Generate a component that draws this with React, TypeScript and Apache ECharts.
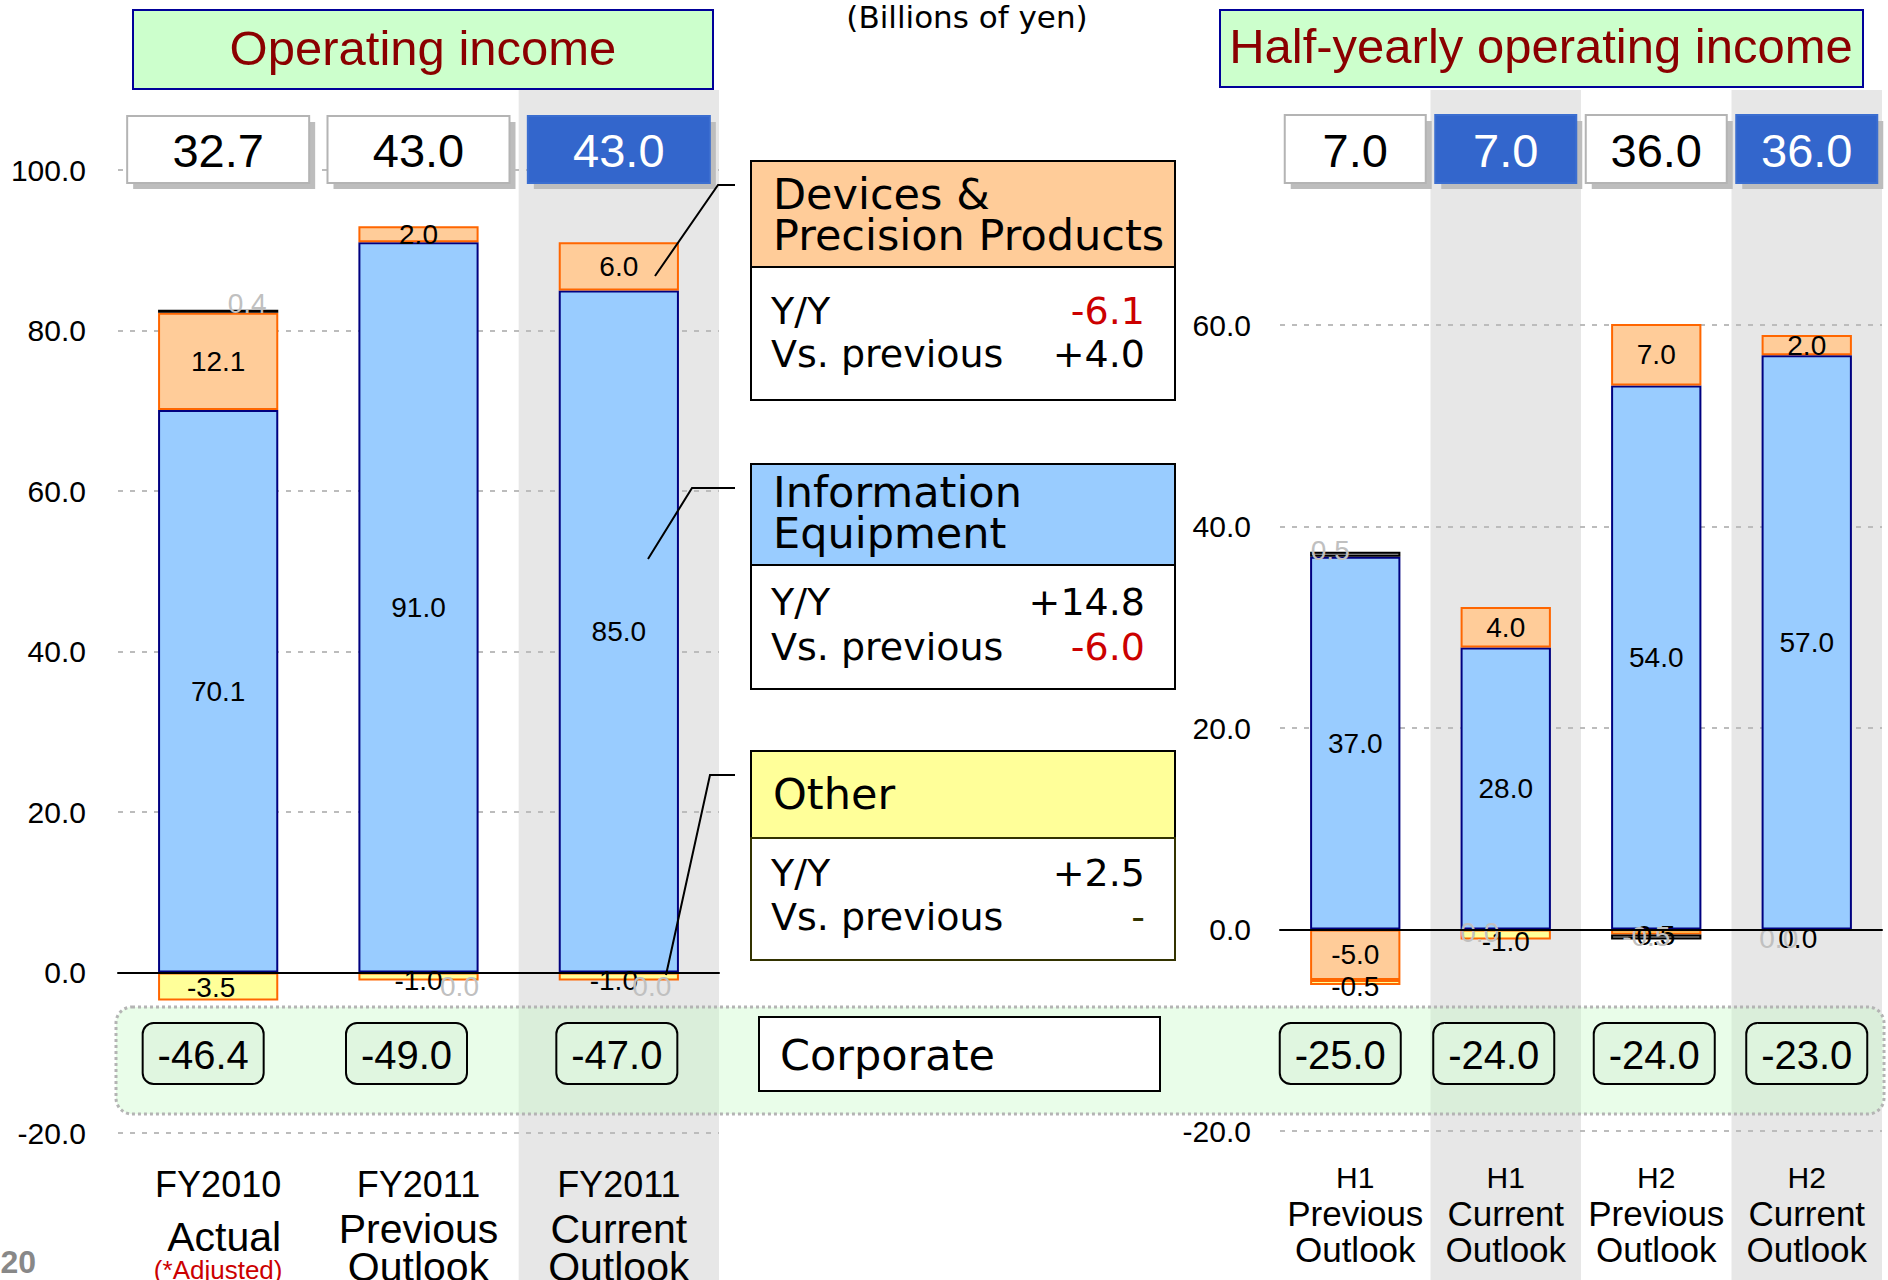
import React, { useEffect, useRef } from "react";
import * as echarts from "echarts";

// ---------------- data ----------------
const annualCategories = ["FY2010\nActual\n(*Adjusted)", "FY2011\nPrevious\nOutlook", "FY2011\nCurrent\nOutlook"];
const annualInfo = [70.1, 91.0, 85.0];
const annualDevices = [12.1, 2.0, 6.0];
const annualOther = [-3.5, -1.0, -1.0];
const annualElim = [0.4, 0.0, 0.0];
const annualCorporate = [-46.4, -49.0, -47.0];
const annualTotal = [32.7, 43.0, 43.0];

const halfCategories = ["H1\nPrevious\nOutlook", "H1\nCurrent\nOutlook", "H2\nPrevious\nOutlook", "H2\nCurrent\nOutlook"];
const halfInfo = [37.0, 28.0, 54.0, 57.0];
const halfDevices = [-5.0, 4.0, 7.0, 2.0];
const halfOther = [-0.5, -1.0, -0.5, 0.0];
const halfElim = [0.5, 0.0, -0.5, 0.0];
const halfCorporate = [-25.0, -24.0, -24.0, -23.0];
const halfTotal = [7.0, 7.0, 36.0, 36.0];

const annualAxis = { min: -20, max: 100, interval: 20 };
const halfAxis = { min: -20, max: 60, interval: 20 };

// ---------------- styles ----------------
const ARIAL = '"Liberation Sans", Arial, Helvetica, sans-serif';
const VERD = '"DejaVu Sans", Verdana, sans-serif';
const C_INFO = "#99CCFF";
const C_DEV = "#FFCC99";
const C_OTHER = "#FFFF99";
const C_ELIM = "#A6A6A6";
const GREY_LABEL = "#C0C0C0";

const annualHighlight = [false, false, true];
const halfHighlight = [false, true, false, true];
const annualShade = ["rgba(0,0,0,0)", "rgba(0,0,0,0)", "#e7e7e7"];
const halfShade = ["rgba(0,0,0,0)", "#e7e7e7"];

const annualOtherOffsets = [[-7, 1], [0, 4], [-5, 4]];
const annualElimOffsets = [[29, -8], [41, 14], [33, 14]];
const halfOtherOffsets = [[0, 4], [0, 7], [-5, 3], [-9, 9]];
const halfElimOffsets = [[-25, -4], [-26, 3], [-10, -1], [-28, 9]];
const corpShift = [-15, -12, -2, 0];

const BAR_LABEL_SIZE = 28;

// zeroOnly: false -> draws the non-zero values of the series in the main stack;
// true -> draws only the zero values, in a separate stack sitting on the baseline.
function barSeries(
  name: string,
  values: number[],
  xi: number,
  yi: number,
  stack: string,
  color: string,
  border: string,
  labelColor: string,
  offsets?: number[][],
  zeroOnly = false
) {
  return {
    type: "bar",
    name,
    stack: zeroOnly ? stack + "-zero" : stack,
    xAxisIndex: xi,
    yAxisIndex: yi,
    barWidth: "60%",
    barGap: "-100%",
    z: 2,
    itemStyle: { color, borderColor: border, borderWidth: 2 },
    label: {
      show: true,
      position: "inside",
      color: labelColor,
      fontSize: BAR_LABEL_SIZE,
      fontFamily: ARIAL,
      formatter: (p: any) => Number(p.value).toFixed(1),
    },
    data: values.map((v, i) => {
      const isZero = v === 0;
      if (zeroOnly !== isZero) return "-";
      const item: any = { value: v };
      if (isZero) item.itemStyle = { borderWidth: 0 };
      if (offsets && offsets[i]) item.label = { offset: offsets[i] };
      return item;
    }),
  };
}

function totalsSeries(values: number[], xi: number, yi: number, highlight: boolean[], w: number, h: number, top: number) {
  return {
    type: "custom",
    xAxisIndex: xi,
    yAxisIndex: yi,
    z: 4,
    data: values.map((v, i) => [i, v]),
    encode: { x: 0 },
    renderItem: (params: any, api: any) => {
      const idx = api.value(0);
      const cx = api.coord([idx, 0])[0];
      const v = api.value(1);
      const hl = highlight[idx];
      const x = cx - w / 2;
      return {
        type: "group",
        children: [
          { type: "rect", shape: { x: x + 6, y: top + 6, width: w, height: h }, style: { fill: "#bdbdbd" } },
          {
            type: "rect",
            shape: { x, y: top, width: w, height: h },
            style: { fill: hl ? "#3366CC" : "#ffffff", stroke: hl ? "#3b6ed0" : "#b4b4b4", lineWidth: 2 },
          },
          {
            type: "text",
            style: {
              text: Number(v).toFixed(1),
              x: cx,
              y: top + h / 2 + 1,
              fill: hl ? "#ffffff" : "#000000",
              fontSize: 47,
              fontFamily: ARIAL,
              align: "center",
              verticalAlign: "middle",
              textAlign: "center",
              textVerticalAlign: "middle",
            },
          },
        ],
      };
    },
  };
}

function corporateSeries(values: number[], xi: number, yi: number) {
  const w = 121;
  const h = 61;
  const top = 1023;
  return {
    type: "custom",
    xAxisIndex: xi,
    yAxisIndex: yi,
    z: 4,
    data: values.map((v, i) => [i, v]),
    encode: { x: 0 },
    renderItem: (params: any, api: any) => {
      const idx = api.value(0);
      const cx = api.coord([idx, 0])[0] + corpShift[idx];
      const v = api.value(1);
      return {
        type: "group",
        children: [
          {
            type: "rect",
            shape: { x: cx - w / 2, y: top, width: w, height: h, r: 11 },
            style: { fill: "rgba(222,245,222,0.85)", stroke: "#000", lineWidth: 2 },
          },
          {
            type: "text",
            style: {
              text: Number(v).toFixed(1),
              x: cx,
              y: top + h / 2 + 1,
              fill: "#000",
              fontSize: 40,
              fontFamily: ARIAL,
              align: "center",
              verticalAlign: "middle",
              textAlign: "center",
              textVerticalAlign: "middle",
            },
          },
        ],
      };
    },
  };
}

function txt(text: string, x: number, y: number, size: number, family: string, fill = "#000", align = "left", extra: any = {}) {
  return {
    type: "text",
    z: 6,
    style: {
      text,
      x,
      y,
      fill,
      fontSize: size,
      fontFamily: family,
      align,
      verticalAlign: "middle",
      textAlign: align,
      textVerticalAlign: "middle",
      ...extra,
    },
  };
}

function rect(x: number, y: number, w: number, h: number, fill: string, stroke: string, lw = 2, z = 5) {
  return { type: "rect", z, shape: { x, y, width: w, height: h }, style: { fill, stroke, lineWidth: lw } };
}

const HEAD = 43;
const BODY = 38;

const graphics: any[] = [
  // corporate band
  {
    type: "rect",
    z: 1,
    shape: { x: 116, y: 1007, width: 1768, height: 107, r: 16 },
    style: { fill: "rgba(200,250,200,0.4)", stroke: "#b4b4b4", lineWidth: 3, lineDash: [3, 3] },
  },
  // titles
  rect(133, 10, 580, 79, "#CCFFCC", "#000099"),
  txt("Operating income", 423, 48, 49, ARIAL, "#8B0000", "center"),
  rect(1220, 10, 643, 77, "#CCFFCC", "#000099"),
  txt("Half-yearly operating income", 1541, 46, 49, ARIAL, "#8B0000", "center"),
  txt("(Billions of yen)", 967, 17, 31, VERD, "#000", "center"),
  // Devices legend
  rect(751, 161, 424, 106, C_DEV, "#000"),
  rect(751, 267, 424, 133, "#fff", "#000"),
  txt("Devices &", 773, 194, HEAD, VERD),
  txt("Precision Products", 773, 235, HEAD, VERD),
  txt("Y/Y", 771, 311, BODY, VERD),
  txt("Vs. previous", 771, 354, BODY, VERD),
  txt("-6.1", 1145, 311, BODY, VERD, "#CC0000", "right"),
  txt("+4.0", 1145, 354, BODY, VERD, "#000", "right"),
  // Info legend
  rect(751, 464, 424, 101, C_INFO, "#000"),
  rect(751, 565, 424, 124, "#fff", "#000"),
  txt("Information", 773, 492, HEAD, VERD),
  txt("Equipment", 773, 533, HEAD, VERD),
  txt("Y/Y", 771, 602, BODY, VERD),
  txt("Vs. previous", 771, 647, BODY, VERD),
  txt("+14.8", 1145, 602, BODY, VERD, "#000", "right"),
  txt("-6.0", 1145, 647, BODY, VERD, "#CC0000", "right"),
  // Other legend
  rect(751, 751, 424, 87, C_OTHER, "#000"),
  rect(751, 838, 424, 122, "#fff", "#333300"),
  txt("Other", 773, 794, HEAD, VERD),
  txt("Y/Y", 771, 873, BODY, VERD),
  txt("Vs. previous", 771, 917, BODY, VERD),
  txt("+2.5", 1145, 873, BODY, VERD, "#000", "right"),
  txt("-", 1145, 917, BODY, VERD, "#333300", "right"),
  // Corporate label
  rect(759, 1017, 401, 74, "#fff", "#000"),
  txt("Corporate", 780, 1055, 43, VERD),
  // leader lines
  { type: "polyline", z: 7, shape: { points: [[655, 276], [718, 185], [735, 185]] }, style: { stroke: "#000", lineWidth: 2, fill: null } },
  { type: "polyline", z: 7, shape: { points: [[648, 559], [692, 488], [735, 488]] }, style: { stroke: "#000", lineWidth: 2, fill: null } },
  { type: "polyline", z: 7, shape: { points: [[666, 975], [710, 775], [735, 775]] }, style: { stroke: "#000", lineWidth: 2, fill: null } },
  // page number
  txt("20", 36, 1262, 32, ARIAL, "#888", "right", { fontWeight: "bold" }),
];

function valueAxis(gridIndex: number, a: { min: number; max: number; interval: number }, margin: number) {
  return {
    type: "value",
    gridIndex,
    min: a.min,
    max: a.max,
    interval: a.interval,
    z: 1,
    axisLine: { show: false },
    axisTick: { show: false },
    axisLabel: {
      color: "#000",
      fontSize: 30,
      fontFamily: ARIAL,
      margin,
      formatter: (v: number) => v.toFixed(1),
    },
    splitLine: { lineStyle: { color: "#bcbcbc", width: 2, type: [5, 7] } },
  };
}

function zeroAxis(gridIndex: number, data: string[], tickLen: number) {
  return {
    type: "category",
    gridIndex,
    data,
    z: 3,
    axisLine: { onZero: true, lineStyle: { color: "#000", width: 2 } },
    axisTick: { inside: true, length: tickLen, lineStyle: { color: "#000", width: 2 } },
    axisLabel: { show: false },
    splitLine: { show: false },
  };
}

function labelAxis(gridIndex: number, data: string[], margin: number, formatter: any, rich: any) {
  return {
    type: "category",
    gridIndex,
    data,
    position: "bottom",
    axisLine: { show: false, onZero: false },
    axisTick: { show: false },
    splitLine: { show: false },
    axisLabel: { interval: 0, margin, color: "#000", formatter, rich },
  };
}

function shadeAxis(gridIndex: number, data: string[], colors: string[]) {
  return {
    type: "category",
    gridIndex,
    data,
    z: 0,
    axisLine: { show: false },
    axisTick: { show: false },
    axisLabel: { show: false },
    splitLine: { show: false },
    splitArea: { show: true, areaStyle: { color: colors } },
  };
}

const annualRich = {
  h: { fontSize: 36, fontFamily: ARIAL, lineHeight: 42, color: "#000" },
  s: { fontSize: 41, fontFamily: ARIAL, lineHeight: 48, color: "#000" },
  s3: { fontSize: 41, fontFamily: ARIAL, lineHeight: 28, color: "#000" },
  act: { fontSize: 41, fontFamily: ARIAL, lineHeight: 64, color: "#000", padding: [0, 0, 0, 12] },
  adj: { fontSize: 26, fontFamily: ARIAL, lineHeight: 1, color: "#CC0000" },
};
const annualFormatter = (v: string) => {
  const [a, b, c] = v.split("\n");
  if (c.startsWith("(")) return `{h|${a}}\n{act|${b}}\n{adj|${c}}`;
  return `{h|${a}}\n{s|${b}}\n{s3|${c}}`;
};
const halfRich = {
  h: { fontSize: 30, fontFamily: ARIAL, lineHeight: 36, color: "#000" },
  s: { fontSize: 35, fontFamily: ARIAL, lineHeight: 36, color: "#000" },
};
const halfFormatter = (v: string) => {
  const [a, b, c] = v.split("\n");
  return `{h|${a}}\n{s|${b}}\n{s|${c}}`;
};

const option: any = {
  animation: false,
  backgroundColor: "#ffffff",
  grid: [
    { left: 118, top: 170, width: 601, height: 963, outerBoundsMode: "none" },
    { left: 1280, top: 325, width: 602, height: 806, outerBoundsMode: "none" },
    { left: 118, top: 90, width: 601, height: 1190, outerBoundsMode: "none" },
    { left: 1280, top: 90, width: 602, height: 1190, outerBoundsMode: "none" },
  ],
  xAxis: [
    zeroAxis(0, annualCategories, 16),
    labelAxis(0, annualCategories, 30, annualFormatter, annualRich),
    zeroAxis(1, halfCategories, 12),
    labelAxis(1, halfCategories, 28, halfFormatter, halfRich),
    shadeAxis(2, annualCategories, annualShade),
    shadeAxis(3, halfCategories, halfShade),
  ],
  yAxis: [
    valueAxis(0, annualAxis, 32),
    valueAxis(1, halfAxis, 29),
    { type: "value", gridIndex: 2, min: 0, max: 1, show: false },
    { type: "value", gridIndex: 3, min: 0, max: 1, show: false },
  ],
  graphic: graphics,
  series: [
    barSeries("Information Equipment", annualInfo, 0, 0, "annual", C_INFO, "#000080", "#000"),
    barSeries("Devices & Precision Products", annualDevices, 0, 0, "annual", C_DEV, "#FF6600", "#000"),
    barSeries("Other", annualOther, 0, 0, "annual", C_OTHER, "#FF6600", "#000", annualOtherOffsets),
    barSeries("Eliminations", annualElim, 0, 0, "annual", C_ELIM, "#000", GREY_LABEL, annualElimOffsets),
    barSeries("Other", annualOther, 0, 0, "annual", C_OTHER, "#FF6600", "#000", annualOtherOffsets, true),
    barSeries("Eliminations", annualElim, 0, 0, "annual", C_ELIM, "#000", GREY_LABEL, annualElimOffsets, true),
    barSeries("Information Equipment", halfInfo, 2, 1, "half", C_INFO, "#000080", "#000"),
    barSeries("Devices & Precision Products", halfDevices, 2, 1, "half", C_DEV, "#FF6600", "#000"),
    barSeries("Other", halfOther, 2, 1, "half", C_OTHER, "#FF6600", "#000", halfOtherOffsets),
    barSeries("Eliminations", halfElim, 2, 1, "half", C_ELIM, "#000", GREY_LABEL, halfElimOffsets),
    barSeries("Other", halfOther, 2, 1, "half", C_OTHER, "#FF6600", "#000", halfOtherOffsets, true),
    barSeries("Eliminations", halfElim, 2, 1, "half", C_ELIM, "#000", GREY_LABEL, halfElimOffsets, true),
    totalsSeries(annualTotal, 4, 2, annualHighlight, 182, 67, 116),
    totalsSeries(halfTotal, 5, 3, halfHighlight, 141, 68, 115),
    corporateSeries(annualCorporate, 4, 2),
    corporateSeries(halfCorporate, 5, 3),
  ],
};

export default function App() {
  const ref = useRef<HTMLDivElement>(null);
  useEffect(() => {
    const chart = echarts.init(ref.current as HTMLDivElement, null, { renderer: "svg" });
    chart.setOption(option);
    return () => chart.dispose();
  }, []);
  return (
    <div
      ref={ref}
      style={{ position: "fixed", left: 0, top: 0, width: 1888, height: 1280, background: "#fff" }}
    />
  );
}
